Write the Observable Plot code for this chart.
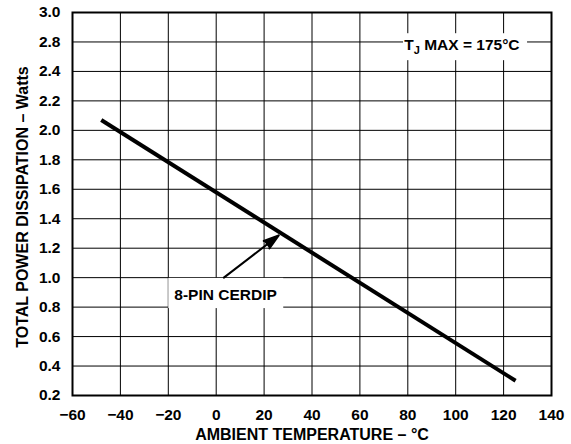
<!DOCTYPE html>
<html><head><meta charset="utf-8">
<script src="https://cdn.jsdelivr.net/npm/d3@7"></script>
<script src="https://cdn.jsdelivr.net/npm/@observablehq/plot@0.6"></script>
<style>
body{margin:0;background:#fff}
svg{font-family:"Liberation Sans",Arial,Helvetica,sans-serif;font-weight:bold}
</style>
</head><body><div id="chart"></div>
<script>
// Data
const temps = [-48, 125];            // ambient temperature, °C
const watts = [2.07, 0.30];          // total power dissipation, W
const xTicks = [-60, -40, -20, 0, 20, 40, 60, 80, 100, 120, 140];
const yTicks = [0.2, 0.4, 0.6, 0.8, 1.0, 1.2, 1.4, 1.6, 1.8, 2.0, 2.2, 2.4, 2.6, 2.8];
const yTickLabels = ["0.2", "0.4", "0.6", "0.8", "1.0", "1.2", "1.4", "1.6", "1.8", "2.0", "2.2", "2.4", "2.8", "3.0"];
const xLabel = "AMBIENT TEMPERATURE – °C";
const yLabel = "TOTAL POWER DISSIPATION – Watts";
const noteLabels = ["TJ MAX = 175°C", "8-PIN CERDIP"];
const noteX = [102.6, 3.9];
const noteY = [2.582, 0.88];
const boxX1 = [78.2, -19.8];
const boxX2 = [130.0, 28.2];
const boxY1 = [2.473, 0.79];
const boxY2 = [2.656, 0.995];
const arrowFrom = {x: 3.2, y: 1.0};
const arrowTo = {x: 26.1, y: 1.287};

const lineData = temps.map((t, i) => ({t, w: watts[i]}));
const notes = noteLabels.map((label, i) => ({label, x: noteX[i], y: noteY[i]}));
const boxes = boxX1.map((x1, i) => ({x1, x2: boxX2[i], y1: boxY1[i], y2: boxY2[i]}));

const chart = Plot.plot({
  width: 571,
  height: 444,
  marginLeft: 72,
  marginRight: 20,
  marginTop: 12,
  marginBottom: 49,
  style: {fontSize: "15.5px", fontFamily: "'Liberation Sans', Arial, sans-serif", fontWeight: "bold", color: "black", background: "white"},
  x: {domain: [-60, 140], ticks: xTicks, tickSize: 0, tickPadding: 13, label: null},
  y: {domain: [0.2, 2.8], ticks: yTicks, tickSize: 0, tickPadding: 12, label: null,
      tickFormat: d => yTickLabels[yTicks.indexOf(d)]},
  marks: [
    Plot.ruleX(xTicks, {stroke: "black", strokeWidth: 1}),
    Plot.ruleY(yTicks, {stroke: "black", strokeWidth: 1}),
    Plot.rect(boxes, {x1: "x1", x2: "x2", y1: "y1", y2: "y2", fill: "white"}),
    Plot.frame({stroke: "black", strokeWidth: 2}),
    Plot.line(lineData, {x: "t", y: "w", stroke: "black", strokeWidth: 4, strokeLinecap: "butt"}),
    Plot.arrow([{a: arrowFrom, b: arrowTo}], {
      x1: d => d.a.x, y1: d => d.a.y, x2: d => d.b.x, y2: d => d.b.y,
      stroke: "black", fill: "black", strokeWidth: 2, headLength: 12, headAngle: 34
    }),
    Plot.text(notes, {x: "x", y: "y", text: "label", fontSize: 15.5, fill: "black"}),
    Plot.text([xLabel], {frameAnchor: "bottom", lineAnchor: "middle", textAnchor: "middle", dy: 39, text: d => d, fontSize: 16, fill: "black"}),
    Plot.text([yLabel], {frameAnchor: "left", textAnchor: "middle", lineAnchor: "middle", dx: -50, dy: 3, rotate: -90, text: d => d, fontSize: 16, fill: "black"})
  ]
});
document.getElementById("chart").appendChild(chart);

// subscript J in T_J
d3.select(chart).selectAll("text").filter(function() { return this.textContent === noteLabels[0]; })
  .each(function() {
    const t = d3.select(this);
    t.text(null);
    t.append("tspan").text("T");
    t.append("tspan").attr("dy", 4).attr("font-size", 11).text("J");
    t.append("tspan").attr("dy", -4).text(" MAX = 175°C");
  });
</script>
</body></html>
